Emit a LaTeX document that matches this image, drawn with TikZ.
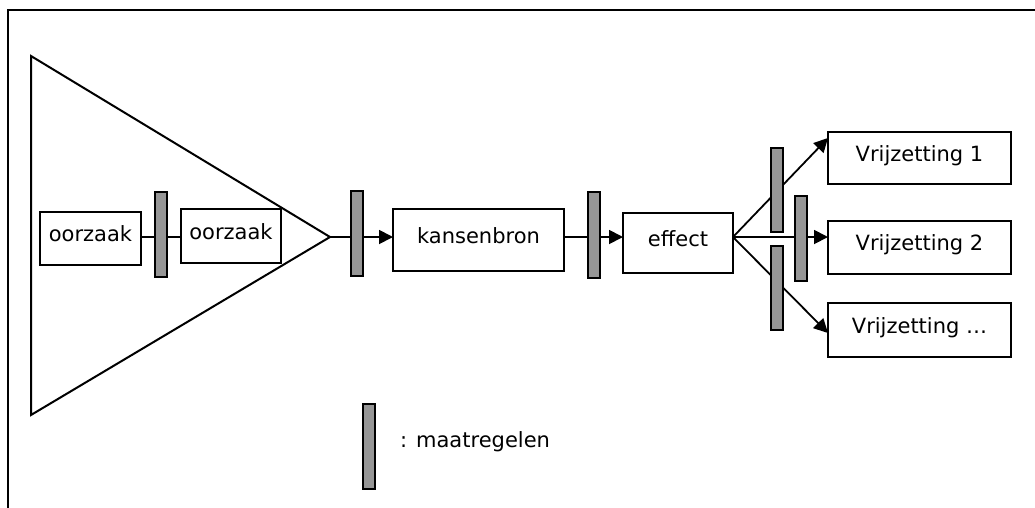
\documentclass[tikz,border=0pt]{standalone}
\usepackage{fontspec}
\setmainfont{DejaVu Sans}
\usetikzlibrary{arrows.meta}
\definecolor{barfill}{RGB}{150,150,150}
\begin{document}
\begin{tikzpicture}[x=1pt,y=-1pt,
  box/.style={draw,line width=2pt,rectangle,outer sep=0pt,inner sep=0pt,
    font=\fontsize{21}{25}\selectfont,text height=15pt,text depth=9pt},
  bar/.style={draw,line width=2pt,fill=barfill,rectangle,outer sep=0pt,inner sep=0pt,
    minimum width=12pt,minimum height=85pt},
  conn/.style={line width=1.8pt},
  arr/.style={line width=1.8pt,-{Triangle[length=14pt,width=14pt]}}]
\useasboundingbox (0,0) rectangle (1035,507);
% frame
\draw[line width=2.2pt] (8,508) -- (8,10) -- (1036,10);
% funnel
\coordinate (apex) at (330,237);
\coordinate (ttop) at (31,56);
\coordinate (tbot) at (31,415);
\draw[line width=2pt,line join=miter] (apex) -- (ttop) -- (tbot) -- cycle;
% boxes
\node[box,minimum width=101pt,minimum height=53pt] (o1) at (90.5,238.5) {oorzaak};
\node[box,minimum width=100pt,minimum height=54pt] (o2) at (231,236) {oorzaak};
\node[box,minimum width=171pt,minimum height=62pt] (kans) at (478.5,240) {kansenbron};
\node[box,minimum width=110pt,minimum height=60pt] (eff) at (678,243) {effect};
\node[box,minimum width=183pt,minimum height=52pt] (v1) at (919.5,158) {Vrijzetting 1};
\node[box,minimum width=183pt,minimum height=53pt] (v2) at (919.5,247.5) {Vrijzetting 2};
\node[box,minimum width=183pt,minimum height=54pt] (v3) at (919.5,330) {Vrijzetting \ldots};
% fan coordinates
\coordinate (fan) at (733,237);
\coordinate (v1in) at (828,138);
\coordinate (v2in) at (828,237);
\coordinate (v3in) at (828,333);
% fan connectors
\draw[arr] (fan) -- (v1in);
\draw[arr] (fan) -- (v2in);
\draw[arr] (fan) -- (v3in);
% bars
\node[bar] (bar1) at (161,234.5) {};
\node[bar] (bar2) at (357,233.5) {};
\node[bar,minimum height=86pt] (bar3) at (594,235) {};
\node[bar,minimum height=84pt] (bar4) at (777,190) {};
\node[bar] (bar5) at (801,238.5) {};
\node[bar,minimum height=84pt] (bar6) at (777,288) {};
\node[bar] (legbar) at (369,446.5) {};
\node[anchor=base west,font=\fontsize{21}{25}\selectfont,inner sep=0pt] (legtxt) at (400,447) {: maatregelen};
% straight connectors
\draw[conn] (o1.east |- apex) -- (bar1.west |- apex);
\draw[conn] (bar1.east |- apex) -- (o2.west |- apex);
\draw[conn] (apex) -- (bar2.west |- apex);
\draw[arr] (bar2.east |- apex) -- (kans.west |- apex);
\draw[conn] (kans.east |- apex) -- (bar3.west |- apex);
\draw[arr] (bar3.east |- apex) -- (eff.west |- apex);
\end{tikzpicture}
\end{document}
